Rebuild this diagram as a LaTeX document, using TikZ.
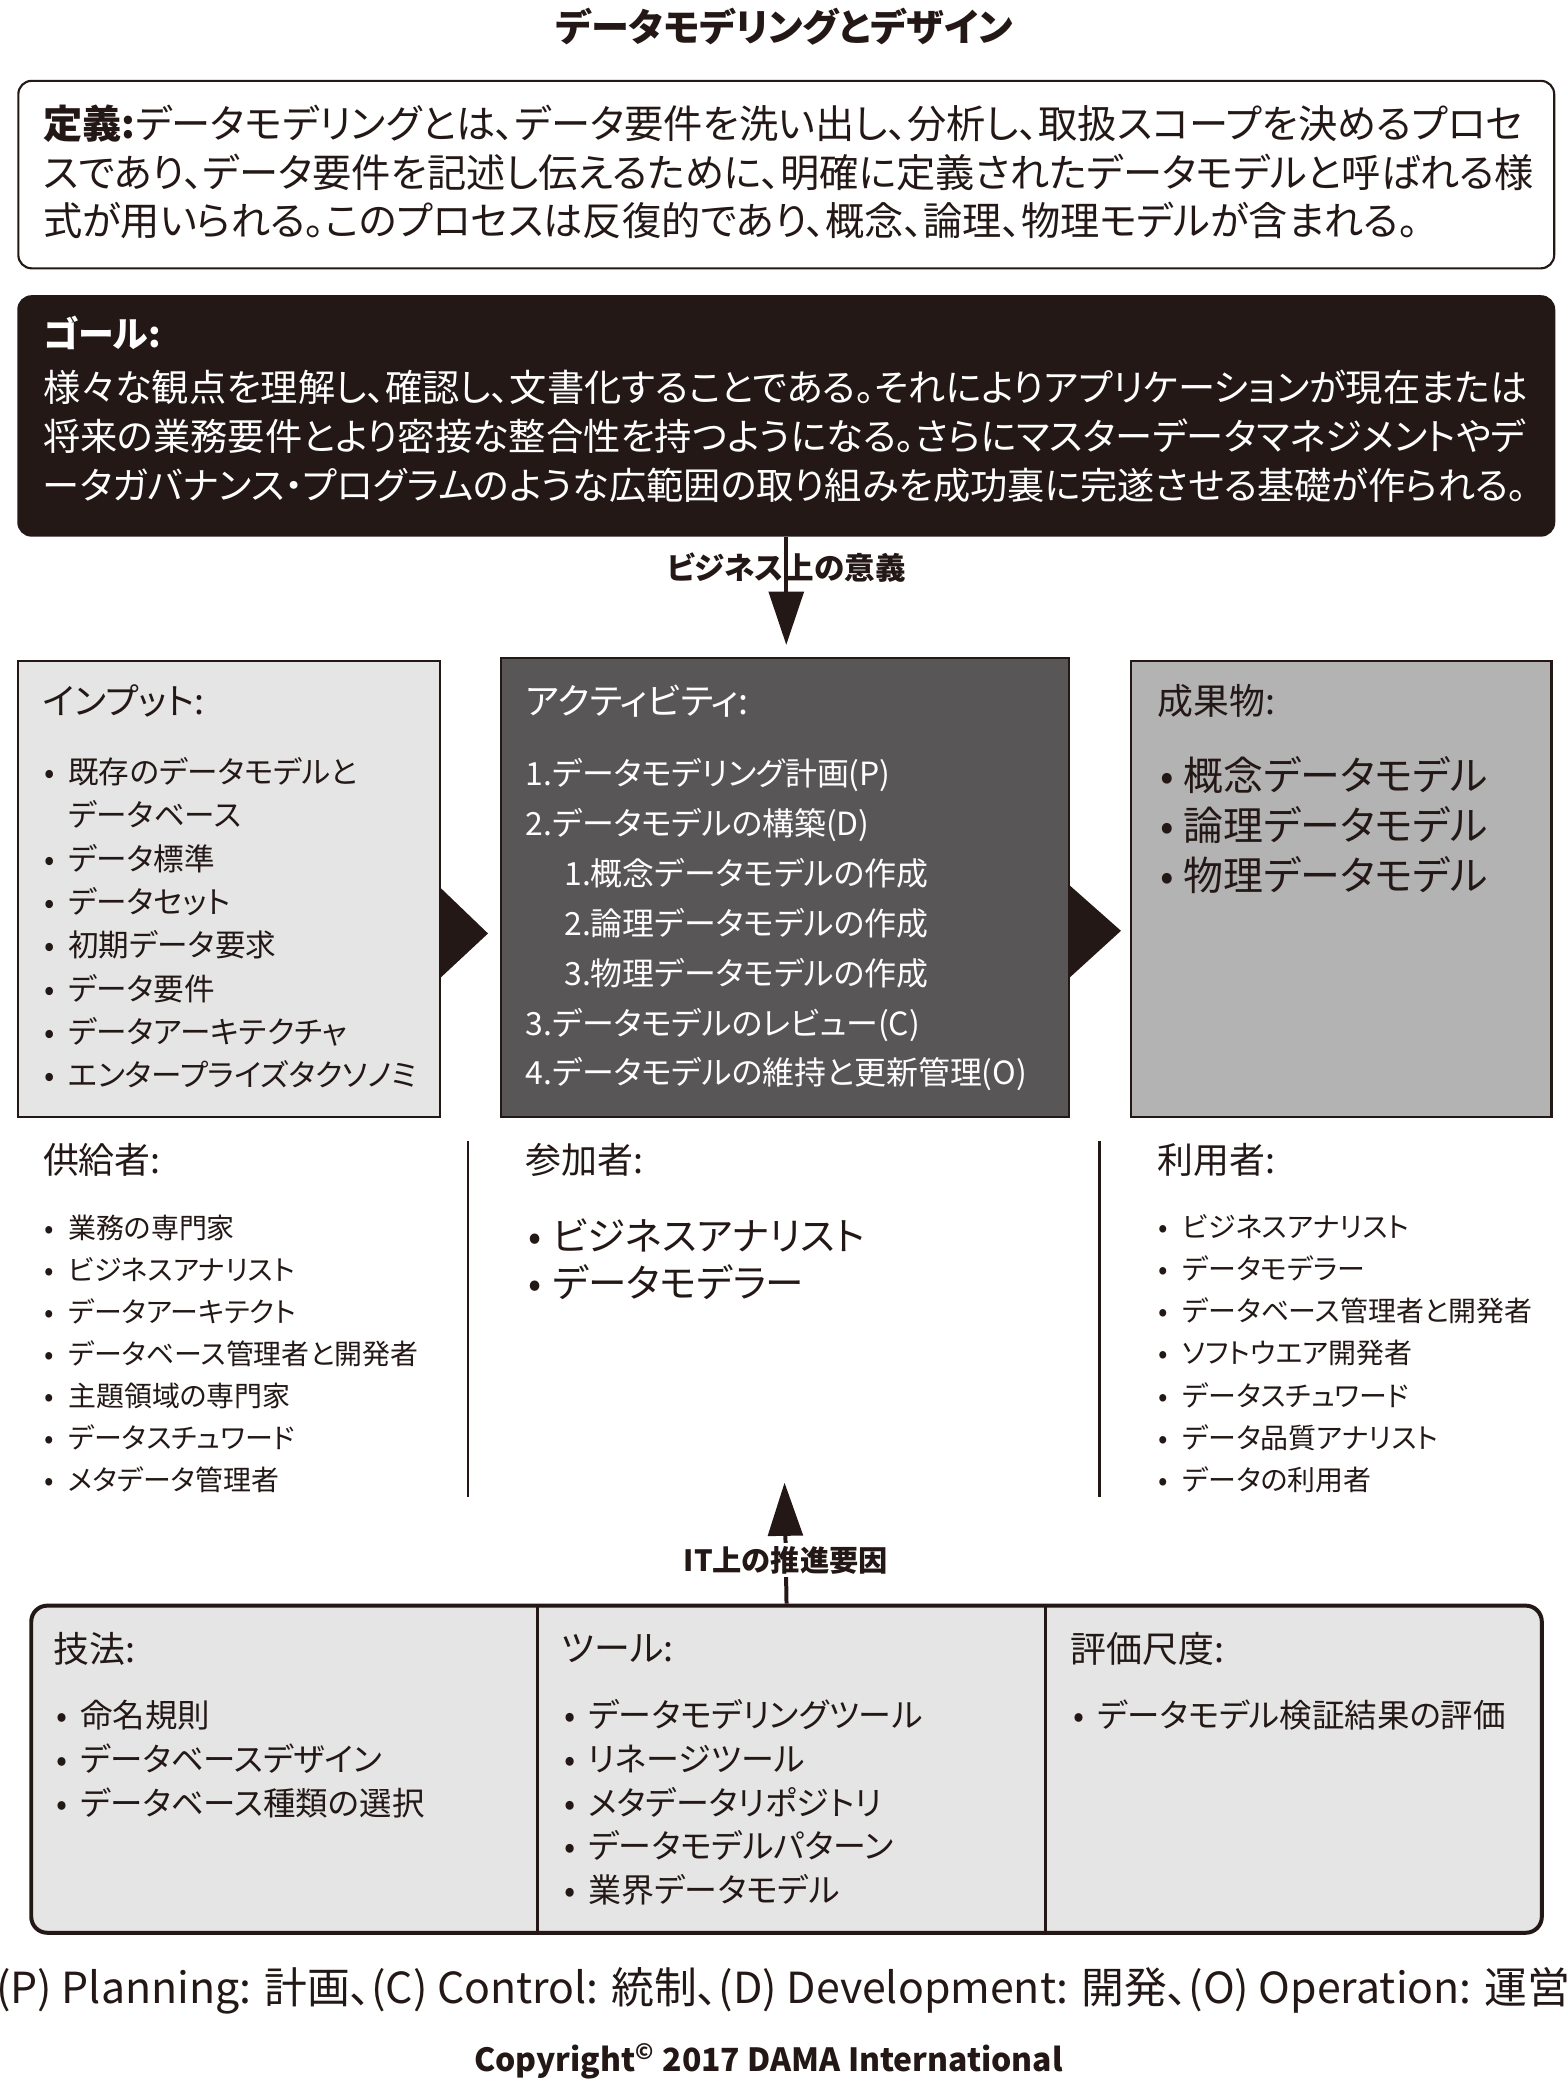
\documentclass[tikz,border=0pt]{standalone}
\usepackage{fontspec}
\setmainfont{Noto Sans CJK JP}[RawFeature=+palt]
\usetikzlibrary{arrows.meta}

\definecolor{ink}{HTML}{231815}
\definecolor{actgray}{HTML}{595657}
\definecolor{ingray}{HTML}{E5E5E5}
\definecolor{outgray}{HTML}{B4B3B4}

\newcommand{\bul}{\makebox[9pt][l]{•}}
\newcommand{\ind}{\hspace*{9pt}}
\newcommand{\fsz}[2]{\fontsize{#1}{#2}\selectfont}

\tikzset{
  box/.style={draw=ink, line width=0.8pt, anchor=north west, inner sep=0pt},
  head/.style={anchor=west, inner sep=0pt, text=ink, font=\fsz{13.5}{16}},
  list/.style={anchor=west, inner sep=0pt, align=left, text=ink},
  bigarrow/.style={draw=ink, line width=1.5pt, -{Triangle[length=20pt,width=13pt]}},
  divider/.style={draw=ink, line width=1pt}
}

\begin{document}
\begin{tikzpicture}[x=0.5pt, y=-0.5pt]
\useasboundingbox (0,0) rectangle (1178,1568);

% title
\node[font=\bfseries\fsz{14.3}{16}, text=ink] (title) at (590,20) {データモデリングとデザイン};

% definition and goal
\node[box, rounded corners=5pt, fill=white, minimum width=577.5pt, minimum height=70.5pt] (defbox) at (13,60) {};
\node[list, font=\fsz{14.75}{18.25}] (deftext) at (32,129.5) {\textbf{定義:}データモデリングとは、データ要件を洗い出し、分析し、取扱スコープを決めるプロセ\\スであり、データ要件を記述し伝えるために、明確に定義されたデータモデルと呼ばれる様\\式が用いられる。このプロセスは反復的であり、概念、論理、物理モデルが含まれる。};

\node[box, rounded corners=5pt, fill=ink, minimum width=577.5pt, minimum height=90pt] (goal) at (13,222) {};
\node[head, text=white, font=\bfseries\fsz{13.5}{16}] (goalhead) at (32,250) {ゴール:};
\node[list, text=white, font=\fsz{14}{18.5}] (goaltext) at (32,328) {様々な観点を理解し、確認し、文書化することである。それによりアプリケーションが現在または\\将来の業務要件とより密接な整合性を持つようになる。さらにマスターデータマネジメントやデ\\ータガバナンス・プログラムのような広範囲の取り組みを成功裏に完遂させる基礎が作られる。};

% inputs, activities, deliverables
\node[box, fill=ingray, minimum width=158.5pt, minimum height=171.5pt] (input) at (13,496) {};
\node[box, fill=actgray, minimum width=213.5pt, minimum height=172.5pt] (activity) at (376,494) {};
\node[box, fill=outgray, minimum width=158pt, minimum height=171.5pt] (output) at (850,496) {};

\fill[ink] (input.east |- 0,668) -- (367,702) -- (input.east |- 0,735) -- cycle;
\fill[ink] (activity.east |- 0,666) -- (843,700) -- (activity.east |- 0,735) -- cycle;

\node[head] (inhead) at (32,527) {インプット:};
\node[list, font=\fsz{11.5}{16.3}] (intext) at (33,694) {\bul 既存のデータモデルと\\\ind データベース\\\bul データ標準\\\bul データセット\\\bul 初期データ要求\\\bul データ要件\\\bul データアーキテクチャ\\\bul エンタープライズタクソノミ};

\node[head, text=white] (acthead) at (395,527) {アクティビティ:};
\node[list, text=white, font=\fsz{12}{18.75}] (acttext) at (395,695.5) {1.データモデリング計画(P)\\2.データモデルの構築(D)\\\hspace*{14.5pt}1.概念データモデルの作成\\\hspace*{14.5pt}2.論理データモデルの作成\\\hspace*{14.5pt}3.物理データモデルの作成\\3.データモデルのレビュー(C)\\4.データモデルの維持と更新管理(O)};

\node[head] (outhead) at (870,527) {成果物:};
\node[list, font=\fsz{15}{18.75}] (outtext) at (872,620.5) {\bul 概念データモデル\\\bul 論理データモデル\\\bul 物理データモデル};

% roles
\draw[divider] (352,858) -- (352,1126);
\draw[divider] (827,858) -- (827,1126);

\node[head] (suphead) at (32,872) {供給者:};
\node[list, font=\fsz{10.5}{15.8}] (suptext) at (33,1018) {\bul 業務の専門家\\\bul ビジネスアナリスト\\\bul データアーキテクト\\\bul データベース管理者と開発者\\\bul 主題領域の専門家\\\bul データスチュワード\\\bul メタデータ管理者};

\node[head] (parthead) at (395,872) {参加者:};
\node[list, font=\fsz{14.5}{18}] (parttext) at (397,947) {\bul ビジネスアナリスト\\\bul データモデラー};

\node[head] (conshead) at (870,872) {利用者:};
\node[list, font=\fsz{10.5}{15.8}] (constext) at (871,1018) {\bul ビジネスアナリスト\\\bul データモデラー\\\bul データベース管理者と開発者\\\bul ソフトウエア開発者\\\bul データスチュワード\\\bul データ品質アナリスト\\\bul データの利用者};

% technical drivers
\node[box, rounded corners=6pt, fill=ingray, line width=1.5pt, minimum width=568pt, minimum height=123pt] (guides) at (22,1206) {};
\draw[divider] (404,1206) -- (404,1452);
\draw[divider] (786,1206) -- (786,1452);

\node[head] (techhead) at (40,1240) {技法:};
\node[list, font=\fsz{12.2}{16.4}] (techtext) at (42,1323) {\bul 命名規則\\\bul データベースデザイン\\\bul データベース種類の選択};

\node[head] (toolhead) at (422,1240) {ツール:};
\node[list, font=\fsz{12.4}{16.4}] (tooltext) at (424,1355.5) {\bul データモデリングツール\\\bul リネージツール\\\bul メタデータリポジトリ\\\bul データモデルパターン\\\bul 業界データモデル};

\node[head] (metrhead) at (805,1240) {評価尺度:};
\node[list, font=\fsz{12.2}{16.4}] (metrtext) at (807,1290) {\bul データモデル検証結果の評価};

% arrows
\draw[bigarrow, shorten >=4.5pt] (goal.south) -- node[pos=0.26, font=\bfseries\fsz{11.5}{14}, text=ink] (bizlabel) {ビジネス上の意義} (goal.south |- activity.north);
\coordinate (ittip) at (590,1115);
\draw[bigarrow] (guides.north) -- node[pos=0.36, fill=white, inner sep=1pt, font=\bfseries\fsz{11}{14}, text=ink] (itlabel) {IT上の推進要因} (ittip);

% footer
\node[font=\fsz{16.1}{18}, text=ink] (legend) at (589,1497) {(P) Planning: 計画、(C) Control: 統制、(D) Development: 開発、(O) Operation: 運営};
\node[font=\bfseries\fsz{12}{14}, text=ink] (copyright) at (578,1550) {Copyright\textsuperscript{©} 2017 DAMA International};
\end{tikzpicture}
\end{document}
